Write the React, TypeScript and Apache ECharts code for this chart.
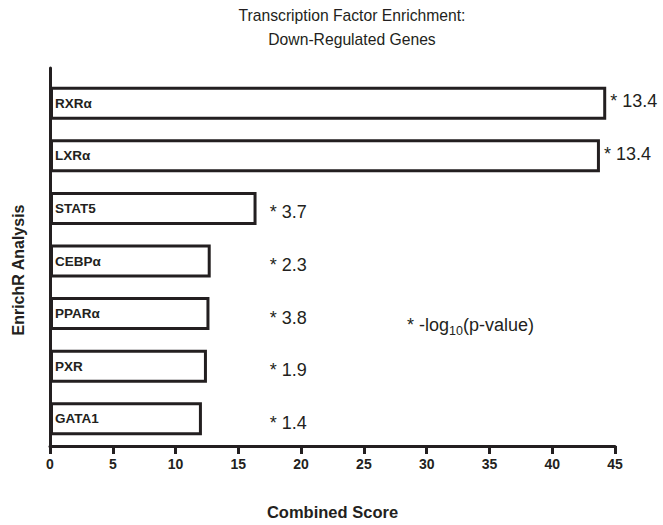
import React, { useEffect, useRef } from "react";
import * as echarts from "echarts";

const categories = ["RXRα", "LXRα", "STAT5", "CEBPα", "PPARα", "PXR", "GATA1"];
const combinedScores = [44.3, 43.8, 16.45, 12.8, 12.7, 12.5, 12.1];
const negLogP = ["13.4", "13.4", "3.7", "2.3", "3.8", "1.9", "1.4"];
const xTicks = { min: 0, max: 45, interval: 5 };

const INK = "#231f20";
const FONT = "'Liberation Sans', Arial, Helvetica, sans-serif";

export default function App() {
  const ref = useRef<HTMLDivElement>(null);

  useEffect(() => {
    if (!ref.current) return;
    const chart = echarts.init(ref.current, null, { renderer: "svg" });
    const plotWidth = 663 - 50 - 48;
    const pxPerUnit = plotWidth / (xTicks.max - xTicks.min);
    const labelAnchor = 17.5;

    const barData = combinedScores.map((v) => {
      const dist = Math.max(4, (labelAnchor - v) * pxPerUnit);
      const long = v > labelAnchor;
      return {
        value: v,
        label: {
          distance: dist,
          offset: [0, long ? -2 : 4],
        },
      };
    });

    chart.setOption({
      animation: false,
      backgroundColor: "#ffffff",
      textStyle: { fontFamily: FONT },
      grid: [
        { left: 50, right: 48, top: 68, bottom: 73 },
        { left: 50, right: 48, top: 77, bottom: 80 },
      ],
      xAxis: [
        {
          type: "value",
          gridIndex: 0,
          min: xTicks.min,
          max: xTicks.max,
          interval: xTicks.interval,
          name: "Combined Score",
          nameLocation: "middle",
          nameGap: 57,
          nameTextStyle: { fontFamily: FONT, fontWeight: "bold", fontSize: 16.5, color: INK },
          axisLine: { show: true, lineStyle: { color: INK, width: 3 } },
          axisTick: { show: true, length: 8, lineStyle: { color: INK, width: 3 } },
          axisLabel: { fontFamily: FONT, fontWeight: "bold", fontSize: 14, color: INK, margin: 11 },
          splitLine: { show: false },
        },
        {
          type: "value",
          gridIndex: 1,
          min: xTicks.min,
          max: xTicks.max,
          show: false,
        },
      ],
      yAxis: [
        {
          type: "category",
          gridIndex: 0,
          data: [""],
          axisLine: { show: true, lineStyle: { color: INK, width: 3 } },
          axisTick: { show: false },
          axisLabel: { show: false },
        },
        {
          type: "category",
          gridIndex: 1,
          data: categories,
          inverse: true,
          axisLine: { show: false },
          axisTick: { show: false },
          axisLabel: {
            inside: true,
            margin: 5,
            fontFamily: FONT,
            fontWeight: "bold",
            fontSize: 13.5,
            color: INK,
          },
          z: 10,
        },
      ],
      graphic: [
        {
          type: "text",
          x: 352,
          y: 15,
          style: {
            text: "Transcription Factor Enrichment:",
            fontFamily: FONT,
            fontSize: 15.7,
            fill: INK,
            align: "center",
            verticalAlign: "middle",
          },
        },
        {
          type: "text",
          x: 352,
          y: 39,
          style: {
            text: "Down-Regulated Genes",
            fontFamily: FONT,
            fontSize: 15.7,
            fill: INK,
            align: "center",
            verticalAlign: "middle",
          },
        },
        {
          type: "text",
          x: 18,
          y: 270,
          rotation: Math.PI / 2,
          style: {
            text: "EnrichR Analysis",
            fontFamily: FONT,
            fontSize: 16,
            fontWeight: "bold",
            fill: INK,
            align: "center",
            verticalAlign: "middle",
          },
        },
        {
          type: "text",
          x: 407,
          y: 325,
          style: {
            text: "* -log{sub|10}(p-value)",
            fontFamily: FONT,
            fontSize: 18,
            fill: INK,
            align: "left",
            verticalAlign: "middle",
            rich: {
              sub: { fontFamily: FONT, fontSize: 12.5, fill: INK, padding: [11, 0, 0, 0] },
            },
          },
        },
      ],
      series: [
        {
          type: "bar",
          xAxisIndex: 1,
          yAxisIndex: 1,
          data: barData,
          barWidth: 33,
          itemStyle: { color: "#ffffff", borderColor: INK, borderWidth: 3 },
          label: {
            show: true,
            position: "right",
            fontFamily: FONT,
            fontSize: 18,
            color: INK,
            formatter: (p: any) => "* " + negLogP[p.dataIndex],
          },
        },
      ],
    });

    return () => chart.dispose();
  }, []);

  return (
    <div
      ref={ref}
      style={{ position: "fixed", left: 0, top: 0, width: 663, height: 525, background: "#fff" }}
    />
  );
}
